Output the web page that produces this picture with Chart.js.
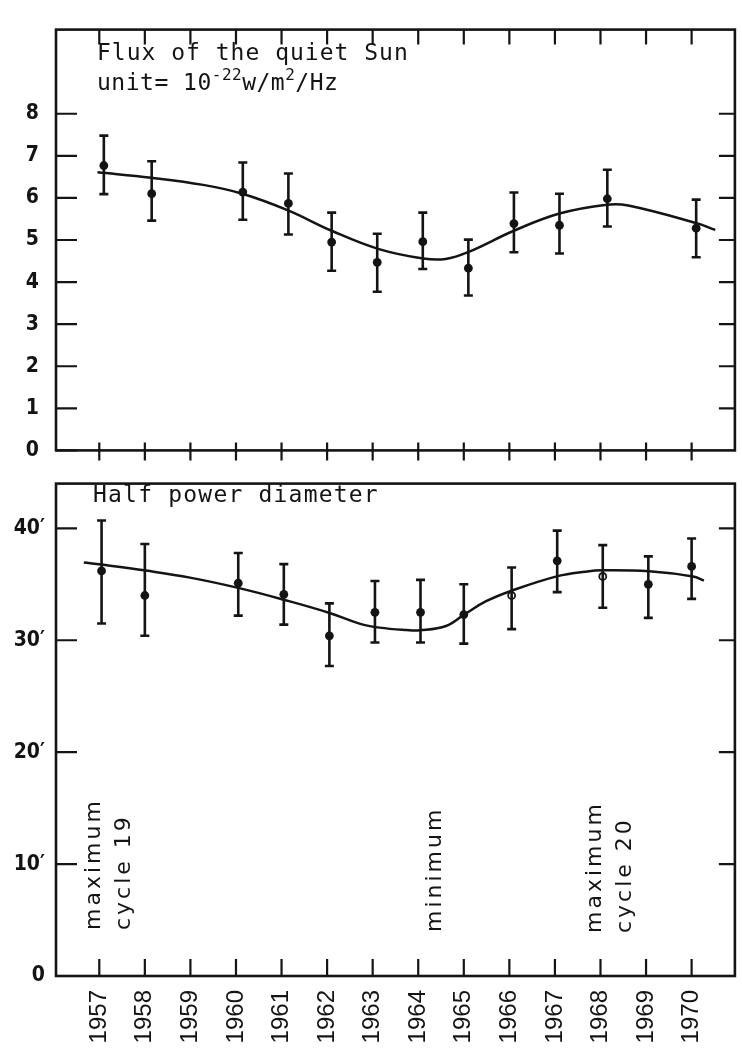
<!DOCTYPE html>
<html lang="en">
<head>
<meta charset="UTF-8">
<title>Quiet Sun: flux and half power diameter 1957-1970</title>
<script src="https://cdn.jsdelivr.net/npm/chart.js@4.4.1/dist/chart.umd.min.js"></script>
<style>
  html, body { margin: 0; padding: 0; background: #fff; }
  #wrap { position: relative; width: 742px; height: 1053px; overflow: hidden; }
  canvas { position: absolute; left: 0; }
  #flux { top: 0; }
  #diam { top: 460px; }
</style>
</head>
<body>
<div id="wrap">
  <canvas id="flux" width="742" height="480"></canvas>
  <canvas id="diam" width="742" height="593"></canvas>
</div>
<script>
// values
const yearTicks = [1957, 1958, 1959, 1960, 1961, 1962, 1963, 1964, 1965, 1966, 1967, 1968, 1969, 1970];

// upper panel: flux of the quiet Sun (10^-22 W/m2/Hz)
const fluxTicks = [0, 1, 2, 3, 4, 5, 6, 7, 8];
const fluxYears = [1957.1, 1958.15, 1960.15, 1961.15, 1962.1, 1963.1, 1964.1, 1965.1, 1966.1, 1967.1, 1968.15, 1970.1];
const fluxVals  = [6.77, 6.10, 6.14, 5.87, 4.95, 4.47, 4.96, 4.33, 5.39, 5.35, 5.98, 5.28];
const fluxHi    = [7.48, 6.87, 6.84, 6.58, 5.65, 5.15, 5.65, 5.01, 6.13, 6.10, 6.67, 5.96];
const fluxLo    = [6.09, 5.46, 5.48, 5.13, 4.27, 3.77, 4.31, 3.68, 4.71, 4.68, 5.32, 4.59];
const fluxCurveX = [1956.96, 1958.14, 1959.28, 1960.14, 1961.13, 1962.1, 1963.12, 1964.11, 1964.6, 1965.11, 1966.1, 1967.1, 1968.14, 1968.61, 1970.11, 1970.52];
const fluxCurveY = [6.61, 6.48, 6.31, 6.10, 5.71, 5.22, 4.79, 4.56, 4.55, 4.72, 5.22, 5.63, 5.84, 5.82, 5.40, 5.24];

// lower panel: half power diameter (arc minutes)
const diamTicks = [0, 10, 20, 30, 40];
const diamTickLabels = ['0', '10\u2032', '20\u2032', '30\u2032', '40\u2032'];
const diamYears = [1957.05, 1958.0, 1960.05, 1961.05, 1962.05, 1963.05, 1964.05, 1965.0, 1966.05, 1967.05, 1968.05, 1969.05, 1970.0];
const diamVals  = [36.2, 34.0, 35.1, 34.1, 30.4, 32.5, 32.5, 32.3, 34.0, 37.1, 35.7, 35.0, 36.6];
const diamHi    = [40.7, 38.6, 37.8, 36.8, 33.3, 35.3, 35.4, 35.0, 36.5, 39.8, 38.5, 37.5, 39.1];
const diamLo    = [31.5, 30.4, 32.2, 31.4, 27.7, 29.8, 29.8, 29.7, 31.0, 34.3, 32.9, 32.0, 33.7];
const diamCurveX = [1956.66, 1957.05, 1958.02, 1958.99, 1960.07, 1961.07, 1962.07, 1962.71, 1963.15, 1963.74, 1964.04, 1964.61, 1965.01, 1965.49, 1966.05, 1967.06, 1967.67, 1968.06, 1969.07, 1970.03, 1970.27];
const diamCurveY = [36.96, 36.77, 36.23, 35.60, 34.66, 33.60, 32.42, 31.49, 31.13, 30.92, 30.90, 31.28, 32.30, 33.49, 34.43, 35.73, 36.13, 36.25, 36.16, 35.70, 35.34];
const diamOpen = [8, 10]; // these two dots are printed hollow

const ink = '#141414';
const mono = '"DejaVu Sans Mono", monospace';
const tickFont = { family: '"DejaVu Sans Condensed", "Liberation Sans Narrow", sans-serif', size: 21, weight: 'bold' };

const xr = { min: 1956.05, max: 1970.95 };

function pts(xs, ys) { return xs.map((x, i) => ({ x, y: ys[i] })); }

function errorBars(xs, lo, hi) {
  return xs.map((yr, i) => ({
    data: [{ x: yr, y: lo[i] }, { x: yr, y: hi[i] }],
    borderColor: ink, borderWidth: 2.6,
    pointStyle: 'line', pointRadius: 4.5, pointHoverRadius: 4.5,
    pointBorderColor: ink, pointBorderWidth: 2.6
  }));
}

function curve(xs, ys) {
  return {
    data: pts(xs, ys), borderColor: ink, borderWidth: 2.5,
    pointRadius: 0, tension: 0.4
  };
}

function dots(xs, ys, open) {
  return {
    data: pts(xs, ys), showLine: false,
    pointRadius: c => (open.includes(c.dataIndex) ? 3.5 : 4.4),
    pointBackgroundColor: c => (open.includes(c.dataIndex) ? '#fff' : ink),
    pointBorderColor: ink,
    pointBorderWidth: c => (open.includes(c.dataIndex) ? 1.8 : 0)
  };
}

function drawText(ctx, t) {
  ctx.save();
  ctx.translate(t.x, t.y);
  if (t.vertical) ctx.rotate(-Math.PI / 2);
  ctx.fillStyle = ink;
  ctx.textBaseline = 'alphabetic';
  ctx.textAlign = 'left';
  let cx = 0;
  t.runs.forEach(([s, sup]) => {
    ctx.font = sup ? '16px ' + mono : t.font;
    ctx.letterSpacing = (t.spacing || 0) + 'px';
    ctx.fillText(s, cx, sup ? -10 : 0);
    cx += ctx.measureText(s).width;
  });
  ctx.restore();
}

// box, inward tick marks and lettering, placed with the chart's own scales
function makeFrame(cfg) {
  return {
    id: 'frame',
    afterDatasetsDraw(chart) {
      const { ctx, chartArea: a, scales: { x, y } } = chart;
      ctx.save();
      ctx.strokeStyle = ink;
      ctx.lineWidth = 2.6;
      ctx.strokeRect(a.left, a.top, a.right - a.left, a.bottom - a.top);
      ctx.lineWidth = 2.2;
      ctx.beginPath();
      (cfg.left || []).forEach(v => { const p = y.getPixelForValue(v); ctx.moveTo(a.left, p); ctx.lineTo(a.left + 21, p); });
      (cfg.right || []).forEach(v => { const p = y.getPixelForValue(v); ctx.moveTo(a.right, p); ctx.lineTo(a.right - 16, p); });
      (cfg.top || []).forEach(v => { const p = x.getPixelForValue(v); ctx.moveTo(p, a.top); ctx.lineTo(p, a.top + 15); });
      (cfg.bottom || []).forEach(v => { const p = x.getPixelForValue(v); ctx.moveTo(p, a.bottom + cfg.below); ctx.lineTo(p, a.bottom - cfg.above); });
      ctx.stroke();
      (cfg.texts || []).forEach(t => drawText(ctx, t));
      ctx.restore();
    }
  };
}

const common = {
  responsive: false,
  animation: false,
  events: [],
  plugins: { legend: { display: false }, tooltip: { enabled: false } }
};

const letterFont = '23px ' + mono;
const vertFont = '22px "DejaVu Sans", sans-serif';

new Chart(document.getElementById('flux'), {
  type: 'line',
  data: {
    datasets: [
      curve(fluxCurveX, fluxCurveY),
      ...errorBars(fluxYears, fluxLo, fluxHi),
      dots(fluxYears, fluxVals, [])
    ]
  },
  options: {
    ...common,
    layout: { padding: { top: 8, right: 5, bottom: 10, left: 0 } },
    scales: {
      x: { type: 'linear', min: xr.min, max: xr.max, display: false },
      y: {
        min: 0, max: 10,
        afterBuildTicks: s => { s.ticks = fluxTicks.map(v => ({ value: v })); },
        afterFit: s => { s.width = 56; },
        grid: { display: false, drawTicks: false },
        border: { display: false },
        ticks: { color: ink, font: tickFont, padding: 17, callback: v => String(v) }
      }
    }
  },
  plugins: [makeFrame({
    left: fluxTicks, right: fluxTicks.slice(1), top: yearTicks,
    bottom: yearTicks, above: 8, below: 10,
    texts: [
      { x: 97, y: 60, font: letterFont, spacing: 1, runs: [['Flux of the quiet Sun']] },
      { x: 97, y: 90, font: letterFont, spacing: 0.5,
        runs: [['unit= 10'], ['-22', true], ['w/m'], ['2', true], ['/Hz']] }
    ]
  })]
});

new Chart(document.getElementById('diam'), {
  type: 'line',
  data: {
    datasets: [
      curve(diamCurveX, diamCurveY),
      ...errorBars(diamYears, diamLo, diamHi),
      dots(diamYears, diamVals, diamOpen)
    ]
  },
  options: {
    ...common,
    layout: { padding: { top: 10, right: 5, bottom: 0, left: 0 } },
    scales: {
      x: {
        type: 'linear', min: xr.min, max: xr.max,
        afterBuildTicks: s => { s.ticks = yearTicks.map(v => ({ value: v })); },
        afterFit: s => { s.height = 77; },
        grid: { display: false, drawTicks: false },
        border: { display: false },
        ticks: {
          color: ink, autoSkip: false, minRotation: 90, maxRotation: 90, padding: 14,
          font: { family: '"Liberation Sans", Arial, sans-serif', size: 24 },
          callback: v => String(v)
        }
      },
      y: {
        min: 0, max: 44,
        afterBuildTicks: s => { s.ticks = diamTicks.map(v => ({ value: v })); },
        afterFit: s => { s.width = 56; },
        grid: { display: false, drawTicks: false },
        border: { display: false },
        ticks: { color: ink, font: tickFont, padding: 11, callback: (v, i) => diamTickLabels[i] }
      }
    }
  },
  plugins: [makeFrame({
    left: diamTicks.slice(1), right: diamTicks.slice(1),
    bottom: yearTicks, above: 17, below: 0,
    texts: [
      { x: 93, y: 42, font: letterFont, spacing: 1.2, runs: [['Half power diameter']] },
      { x: 100, y: 470, vertical: true, font: vertFont, spacing: 3, runs: [['maximum']] },
      { x: 130, y: 470, vertical: true, font: vertFont, spacing: 3, runs: [['cycle 19']] },
      { x: 441, y: 472, vertical: true, font: vertFont, spacing: 3, runs: [['minimum']] },
      { x: 601, y: 473, vertical: true, font: vertFont, spacing: 3, runs: [['maximum']] },
      { x: 631, y: 473, vertical: true, font: vertFont, spacing: 3, runs: [['cycle 20']] }
    ]
  })]
});
</script>
</body>
</html>
